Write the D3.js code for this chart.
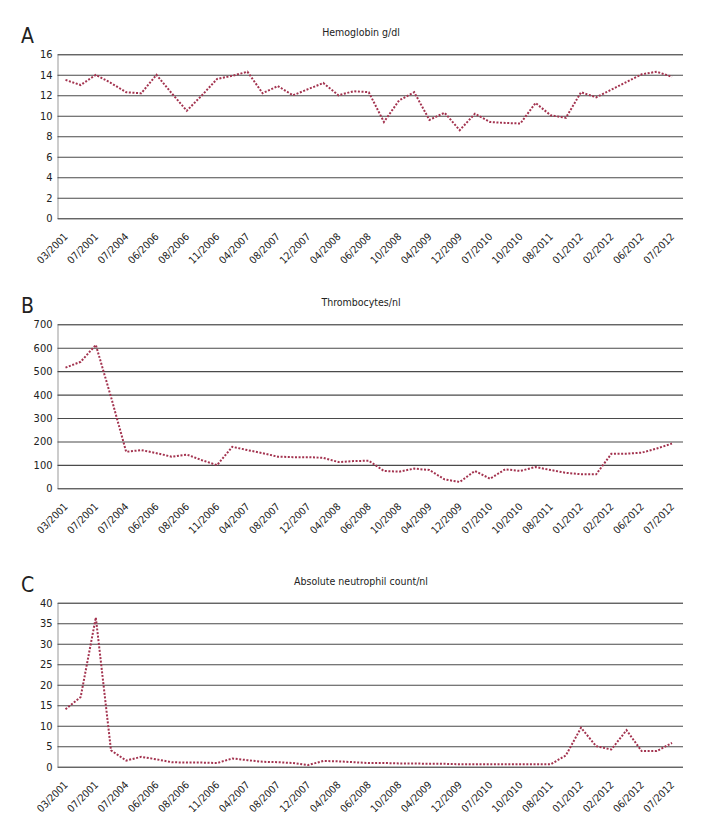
<!DOCTYPE html>
<html>
<head>
<meta charset="utf-8">
<script src="https://cdn.jsdelivr.net/npm/d3@7"></script>
<style>
  html, body { margin: 0; padding: 0; background: #fff; }
  svg { display: block; }
  text { font-family: "Liberation Sans Narrow", "DejaVu Sans Condensed", "Arial Narrow", sans-serif; fill: #222; }
</style>
</head>
<body>
<svg id="chart" width="720" height="840"></svg>
<script>
// ---- Data ----
const xLabels = ["03/2001","07/2001","07/2004","06/2006","08/2006","11/2006","04/2007","08/2007",
  "12/2007","04/2008","06/2008","10/2008","04/2009","12/2009","07/2010","10/2010","08/2011",
  "01/2012","02/2012","06/2012","07/2012"];

const hemoglobin = [13.5, 13.0, 14.0, 13.2, 12.3, 12.2, 14.0, 12.2, 10.5, 12.0, 13.6, 13.9, 14.3, 12.2,
  12.9, 12.0, 12.6, 13.2, 12.0, 12.4, 12.3, 9.4, 11.5, 12.3, 9.6, 10.3, 8.6, 10.2, 9.4, 9.3, 9.25,
  11.25, 10.05, 9.8, 12.3, 11.8, 12.55, 13.3, 14.05, 14.3, 13.8];

const thrombocytes = [515, 540, 612, 390, 156, 163, 150, 135, 144, 120, 99, 177, 163, 150, 135, 133,
  133, 130, 112, 116, 118, 74, 71, 84, 78, 38, 27, 74, 41, 81, 74, 91, 78, 66, 60, 60, 147, 148, 152,
  170, 191];

const neutrophils = [14, 17, 36.4, 4.0, 1.5, 2.4, 1.8, 1.1, 1.0, 1.0, 0.9, 2.0, 1.6, 1.2, 1.1, 0.9,
  0.4, 1.4, 1.3, 1.1, 0.9, 0.9, 0.8, 0.8, 0.7, 0.7, 0.6, 0.6, 0.6, 0.6, 0.6, 0.6, 0.6, 2.75, 9.5, 5.0,
  4.2, 8.9, 3.8, 3.8, 5.8];

const panels = [
  { letter: "A", title: "Hemoglobin g/dl", values: hemoglobin, yMax: 16, yStep: 2, top: 54.3 },
  { letter: "B", title: "Thrombocytes/nl", values: thrombocytes, yMax: 700, yStep: 100, top: 324.3 },
  { letter: "C", title: "Absolute neutrophil count/nl", values: neutrophils, yMax: 40, yStep: 5, top: 602.7 }
];

// ---- Layout ----
const plotLeft = 57.5, plotRight = 683, plotH = 164;
const fontStack = "'Liberation Sans Narrow', 'DejaVu Sans Condensed', sans-serif";
const svg = d3.select("#chart");

const x = d3.scalePoint()
  .domain(d3.range(hemoglobin.length))
  .range([65.5, 672]);

panels.forEach(p => {
  const g = svg.append("g");
  const y = d3.scaleLinear().domain([0, p.yMax]).range([p.top + plotH, p.top]);

  // y axis with gridlines
  const yAxis = d3.axisLeft(y)
    .tickValues(d3.range(0, p.yMax + p.yStep / 2, p.yStep))
    .tickSize(-(plotRight - plotLeft))
    .tickPadding(5)
    .tickFormat(d3.format("d"));
  const ya = g.append("g")
    .attr("transform", `translate(${plotLeft},0)`)
    .call(yAxis);
  ya.select(".domain").attr("stroke", "#999").attr("stroke-width", 1);
  ya.selectAll(".tick line").attr("stroke", "#4a4a4a").attr("stroke-width", 1.1);
  ya.selectAll(".tick text").attr("font-size", 11).attr("fill", "#222")
    .style("font-family", fontStack);

  // x axis labels
  const xAxis = d3.axisBottom(x)
    .tickValues(d3.range(0, hemoglobin.length, 2))
    .tickFormat((d, i) => xLabels[i])
    .tickSize(0)
    .tickPadding(0);
  const xa = g.append("g")
    .attr("transform", `translate(0,${p.top + plotH})`)
    .call(xAxis);
  xa.select(".domain").remove();
  xa.selectAll(".tick text")
    .attr("font-size", 10.3)
    .attr("fill", "#222")
    .style("font-family", fontStack)
    .attr("text-anchor", "end")
    .attr("dy", 0)
    .attr("y", 0)
    .attr("transform", "translate(2.5,19) rotate(-45)");

  // line
  const line = d3.line()
    .x((d, i) => x(i))
    .y(d => y(d));
  g.append("path")
    .datum(p.values)
    .attr("fill", "none")
    .attr("stroke", "#a3334f")
    .attr("stroke-width", 2)
    .attr("stroke-dasharray", "2,1.6")
    .attr("d", line);

  // title
  g.append("text")
    .attr("x", 361)
    .attr("y", p.top - 18)
    .attr("text-anchor", "middle")
    .attr("font-size", 10.5)
    .style("font-family", fontStack)
    .text(p.title);

  // panel letter
  g.append("text")
    .attr("x", 21)
    .attr("y", p.top - 11)
    .attr("font-size", 21)
    .attr("fill", "#111")
    .style("font-family", fontStack)
    .text(p.letter);
});
</script>
</body>
</html>
